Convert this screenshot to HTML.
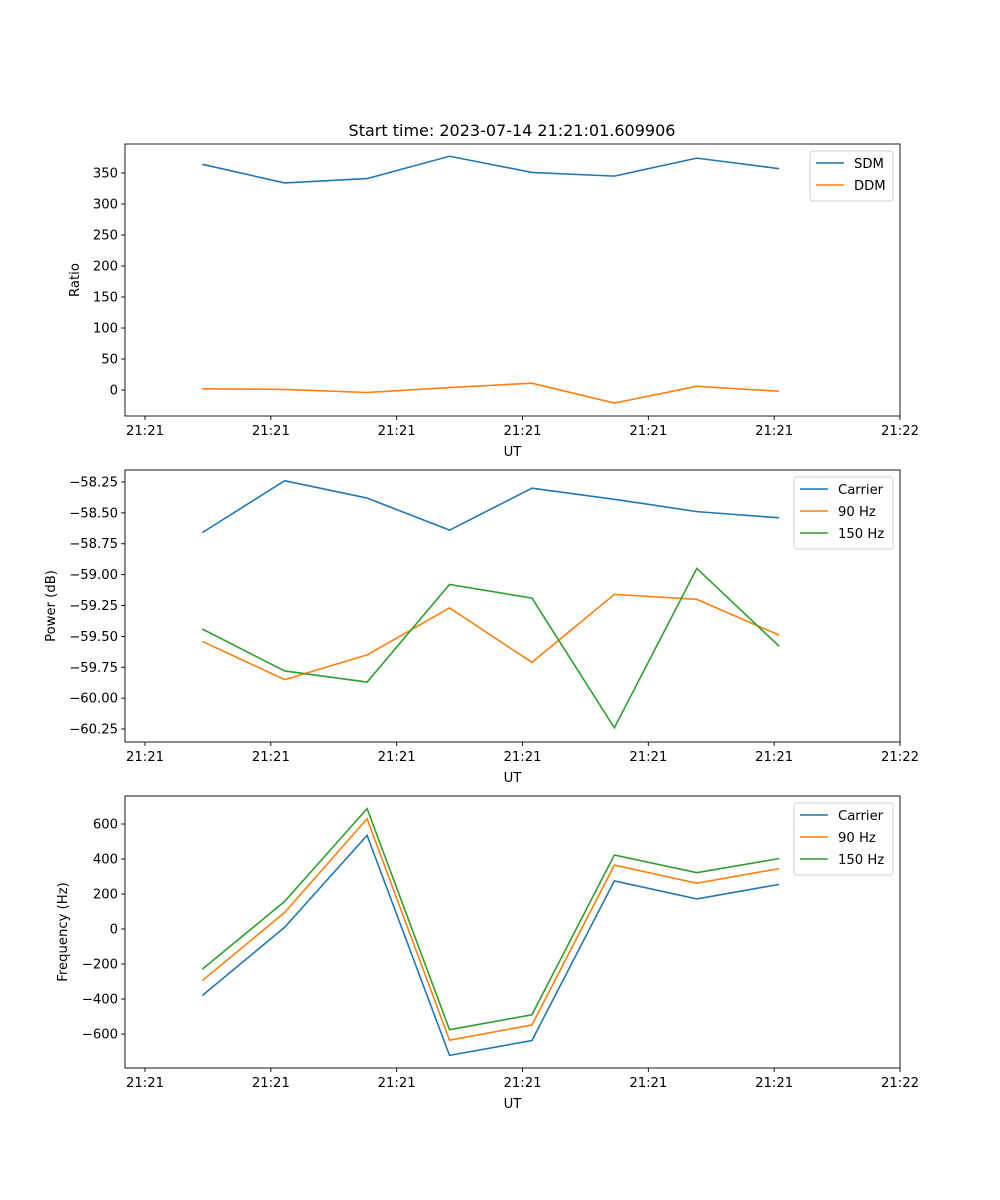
<!DOCTYPE html>
<html><head><meta charset="utf-8"><style>
body{margin:0;background:#fff}
svg{display:block;font-family:"DejaVu Sans","Liberation Sans",sans-serif}
</style></head><body>
<svg id="c" width="1000" height="1200" viewBox="0 0 1000 1200"></svg>
<script>
const times=[4.55,11.1,17.65,24.2,30.75,37.3,43.85,50.4];
const xTickVals=[0,10,20,30,40,50,60];
const xTickLabels=["21:21","21:21","21:21","21:21","21:21","21:21","21:22"];
const sdm=[364,334,341,377,351,345,374,357];
const ddm=[2,1,-4,4,11,-21,6,-2];
const pCarrier=[-58.66,-58.24,-58.38,-58.64,-58.30,-58.39,-58.49,-58.54];
const p90=[-59.54,-59.85,-59.65,-59.27,-59.71,-59.16,-59.20,-59.49];
const p150=[-59.44,-59.78,-59.87,-59.08,-59.19,-60.24,-58.95,-59.58];
const fCarrier=[-380,10,535,-722,-637,275,172,255];
const f90=[-295,95,630,-635,-548,365,262,345];
const f150=[-230,158,688,-575,-490,423,322,403];
const ratioTicks=[0,50,100,150,200,250,300,350];
const powerTicks=[-60.25,-60.0,-59.75,-59.5,-59.25,-59.0,-58.75,-58.5,-58.25];
const powerTickLabels=["\u221260.25","\u221260.00","\u221259.75","\u221259.50","\u221259.25","\u221259.00","\u221258.75","\u221258.50","\u221258.25"];
const freqTicks=[-600,-400,-200,0,200,400,600];

const NS="http://www.w3.org/2000/svg";
const svg=document.getElementById('c');
function mk(tag,attrs,parent){const e=document.createElementNS(NS,tag);for(const k in attrs)e.setAttribute(k,attrs[k]);(parent||svg).appendChild(e);return e;}
const L=125,R=900,xmin=-1.59,xmax=60.0;
const X=v=>L+(v-xmin)/(xmax-xmin)*(R-L);
const C={b:"#1f77b4",o:"#ff7f0e",g:"#2ca02c"};
const FS=13.2;

function panel(name,top,bot,ymin,ymax,yt,ytl,ylabel,ylx,series,legend){
  const g=mk('g',{});
  
  
  const Y=v=>bot-(v-ymin)/(ymax-ymin)*(bot-top);
  series.forEach(s=>{
    const pl=mk('polyline',{points:s.d.map((v,i)=>X(times[i])+','+Y(v)).join(' '),fill:'none',stroke:s.c,'stroke-width':1.6},g);
    
    
  });
  mk('rect',{x:L,y:top,width:R-L,height:bot-top,fill:'none',stroke:'#000','stroke-width':0.9},g);
  xTickVals.forEach((v,i)=>{
    mk('line',{x1:X(v),x2:X(v),y1:bot,y2:bot+4,stroke:'#000','stroke-width':0.9},g);
    const t=mk('text',{x:X(v),y:bot+19,'text-anchor':'middle','font-size':FS},g);t.textContent=xTickLabels[i];
    
    
  });
  const xl=mk('text',{x:(L+R)/2,y:bot+40,'text-anchor':'middle','font-size':FS},g);xl.textContent='UT';
  
  
  yt.forEach((v,i)=>{
    mk('line',{x1:L-4,x2:L,y1:Y(v),y2:Y(v),stroke:'#000','stroke-width':0.9},g);
    const t=mk('text',{x:L-7,y:Y(v)+4.5,'text-anchor':'end','font-size':FS},g);t.textContent=ytl[i];
    
    
  });
  const cy=(top+bot)/2;
  const yl=mk('text',{x:ylx,y:cy,'text-anchor':'middle','font-size':FS,transform:`rotate(-90 ${ylx} ${cy})`},g);yl.textContent=ylabel;
  
  
  const lg=mk('g',{},g);
  
  
  mk('rect',{x:legend.x,y:top+7,width:R-7-legend.x,height:series.length*22+6,rx:3,fill:'#fff',stroke:'#ccc','stroke-width':1,opacity:0.9},lg);
  series.forEach((s,i)=>{
    const yy=top+19+i*22;
    mk('line',{x1:legend.x+6,x2:legend.x+34,y1:yy,y2:yy,stroke:s.c,'stroke-width':1.6},lg);
    const t=mk('text',{x:legend.x+44,y:yy+5,'font-size':FS},lg);t.textContent=s.label;
    
    
  });
}
const tt=mk('text',{x:512,y:136,'text-anchor':'middle','font-size':16});tt.textContent='Start time: 2023-07-14 21:21:01.609906';



panel('ratio',144,416,-41.9,396.8,ratioTicks,ratioTicks.map(String),'Ratio',79,
  [{id:'sdm',d:sdm,c:C.b,label:'SDM'},{id:'ddm',d:ddm,c:C.o,label:'DDM'}],{x:810});
panel('power',470,742,-60.355,-58.153,powerTicks,powerTickLabels,'Power (dB)',55,
  [{id:'carrier',d:pCarrier,c:C.b,label:'Carrier'},{id:'90hz',d:p90,c:C.o,label:'90 Hz'},{id:'150hz',d:p150,c:C.g,label:'150 Hz'}],{x:794});
panel('frequency',796,1068,-794,760,freqTicks,freqTicks.map(v=>v<0?'\u2212'+(-v):String(v)),'Frequency (Hz)',67,
  [{id:'carrier',d:fCarrier,c:C.b,label:'Carrier'},{id:'90hz',d:f90,c:C.o,label:'90 Hz'},{id:'150hz',d:f150,c:C.g,label:'150 Hz'}],{x:794});
</script>
</body></html>
